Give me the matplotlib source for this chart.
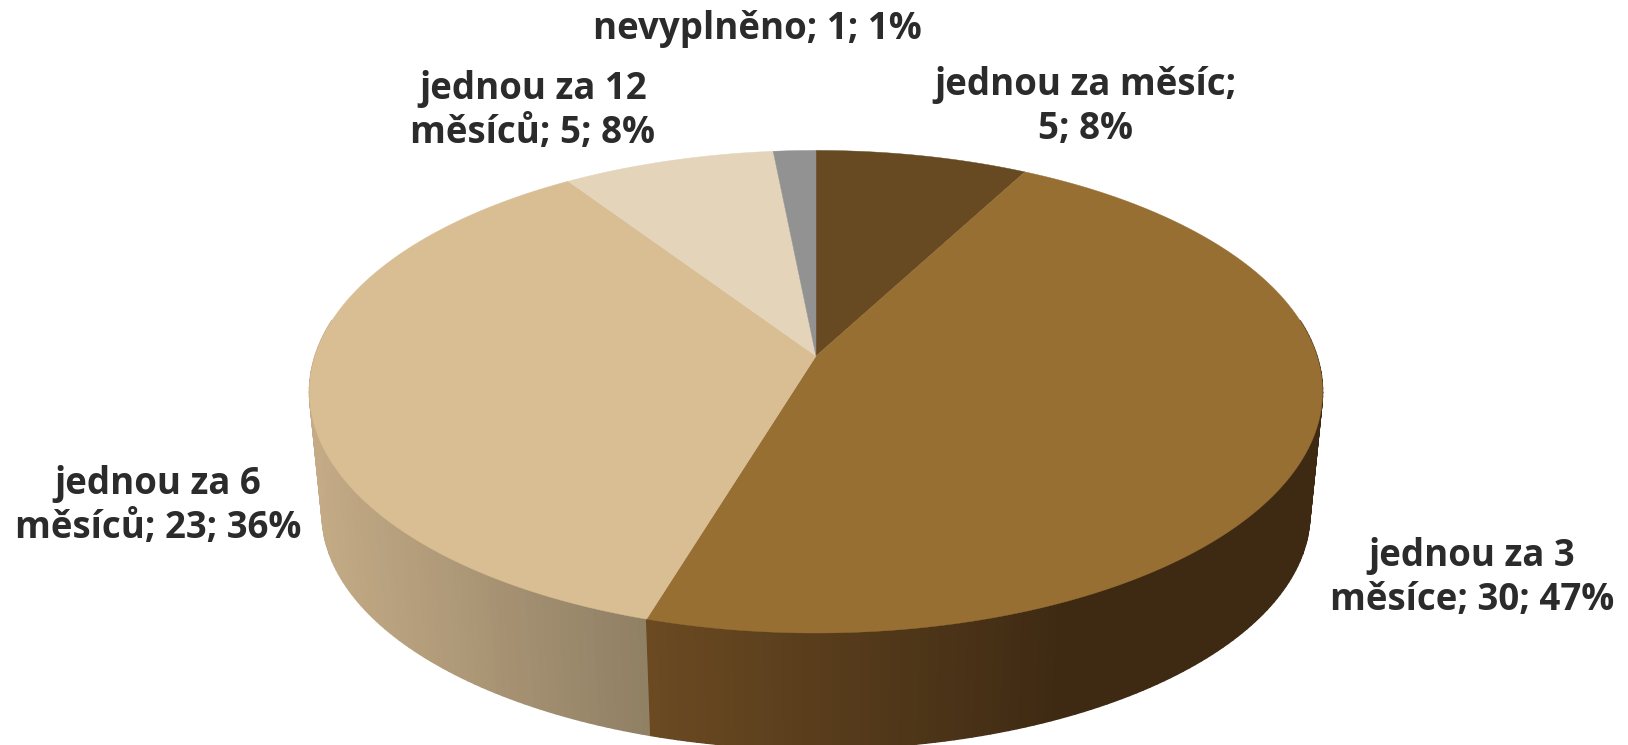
import numpy as np
import matplotlib
matplotlib.use('Agg')
import matplotlib.pyplot as plt
from matplotlib.colors import to_rgb

# clockwise from 12 o'clock
labels = ['jednou za měsíc;\n', 'jednou za 3\nměsíce; ', 'jednou za 6\nměsíců; ',
          'jednou za 12\nměsíců; ', 'nevyplněno; ']
values = [5, 30, 23, 5, 1]
percents = [8, 47, 36, 8, 1]

top_colors = ['#674A22', '#976F33', '#D9BD93', '#E3D4BA', '#929292']
side_left = ['#674A22', '#6B4A22', '#C4AB86', '#E3D4BA', '#929292']
side_right = ['#674A22', '#3E2A13', '#8F7F64', '#E3D4BA', '#929292']
label_pos = [(1086, 107), (1472, 578), (158, 506), (533, 111), (757, 29)]

# perspective of the disc, in pixels of the 1628x745 picture
C = 0.148
D = 501.0
A = 236.0
TOP_X, TOP_Y = 816.0, 356.0
BOT_X, BOT_Y, BOT_K = 816.0, 479.0, 0.975


def rim(t, x0=TOP_X, y0=TOP_Y, k=1.0):
    # t is clockwise from the top
    u, v = np.sin(t), np.cos(t)
    w = 1 + C * v
    return x0 + k * D * u / w, y0 - k * A * v / w


def mix(a, b, f):
    a, b = np.array(to_rgb(a)), np.array(to_rgb(b))
    return tuple(a + (b - a) * f)


fig = plt.figure(figsize=(16.28, 7.45), dpi=100)
ax = fig.add_axes([0, 0, 1, 1])
ax.set_xlim(0, 1628)
ax.set_ylim(745, 0)
ax.axis('off')

fractions = np.array(values) / sum(values)
edges = np.concatenate([[0], np.cumsum(fractions)]) * 2 * np.pi

# sides first, the top covers whatever is behind it
for i in [3, 4, 0, 2, 1]:
    ts = np.linspace(edges[i], edges[i + 1], max(int((edges[i + 1] - edges[i]) * 60), 2))
    xt, yt = rim(ts)
    xb, yb = rim(ts, BOT_X, BOT_Y, BOT_K)
    lo, hi = xt.min(), xt.max()
    for j in range(len(ts) - 1):
        # back of the disc is hidden anyway, drawing it only leaves a dark fringe
        if np.cos(ts[j]) > 0.15 and np.cos(ts[j + 1]) > 0.15:
            continue
        f = (0.5 * (xt[j] + xt[j + 1]) - lo) / max(hi - lo, 1)
        if i == 1:
            f = min(f / 0.62, 1)
        c = mix(side_left[i], side_right[i], f)
        ax.fill([xt[j], xt[j + 1], xb[j + 1], xb[j]], [yt[j], yt[j + 1], yb[j + 1], yb[j]],
                color=c, lw=1.0, zorder=1)

for i in range(len(values)):
    ts = np.linspace(edges[i], edges[i + 1], 200)
    x, y = rim(ts)
    ax.fill(np.r_[TOP_X, x], np.r_[TOP_Y, y], color=top_colors[i], lw=0.3, zorder=2)

for i in range(len(values)):
    ax.text(label_pos[i][0], label_pos[i][1], f'{labels[i]}{values[i]}; {percents[i]}%',
            ha='center', va='center', ma='center', fontsize=26.4, fontweight='bold',
            family='Open Sans', color='#2B2B2B', linespacing=1.2, zorder=3)

fig.savefig('out.png', dpi=100)
